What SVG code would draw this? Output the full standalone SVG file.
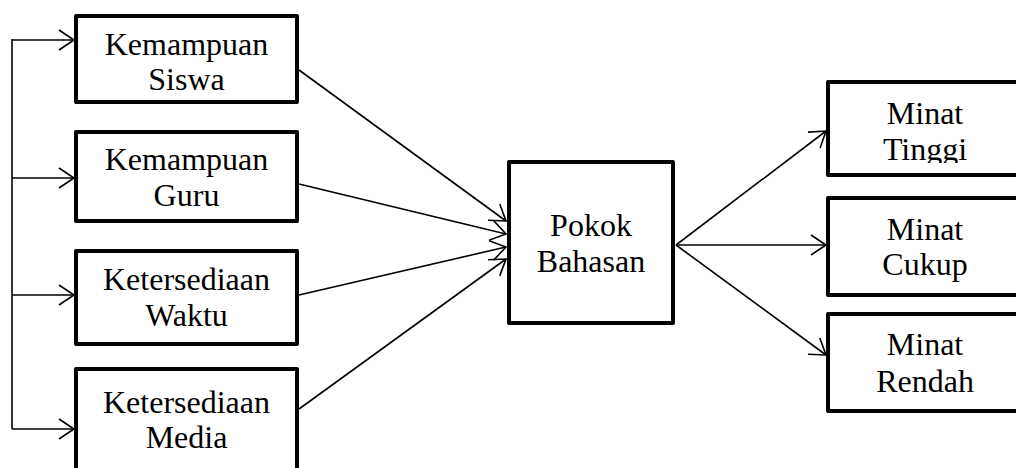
<svg xmlns="http://www.w3.org/2000/svg" width="1016" height="468" viewBox="0 0 1016 468">
  <style>
    .box { fill: #fff; stroke: #000; stroke-width: 4; stroke-linejoin: round; }
    .lbl { font-family: "Liberation Serif", "Times New Roman", serif; font-size: 32px; fill: #000; text-anchor: middle; }
    .wire { fill: none; stroke: #000; stroke-width: 1.6; }
  </style>
  <defs>
    <marker id="chev" markerUnits="userSpaceOnUse" markerWidth="20" markerHeight="24" refX="18" refY="12" orient="auto" overflow="visible">
      <path d="M 3 2 L 18 12 L 3 22" fill="none" stroke="#000" stroke-width="1.6"/>
    </marker>
    <clipPath id="cutTinggi">
      <rect x="828" y="82" width="200" height="81"/>
    </clipPath>
  </defs>
  <rect width="1016" height="468" fill="#fff"/>

  <!-- connectors -->
  <g id="connectors" class="wire">
    <path d="M 12 39 L 12 429"/>
    <path d="M 12 40 L 74 40" marker-end="url(#chev)"/>
    <path d="M 12 178 L 74 178" marker-end="url(#chev)"/>
    <path d="M 12 295 L 74 295" marker-end="url(#chev)"/>
    <path d="M 12 429 L 74 429" marker-end="url(#chev)"/>
    <path d="M 299 70 L 506 221" marker-end="url(#chev)"/>
    <path d="M 299 184 L 506 234" marker-end="url(#chev)"/>
    <path d="M 299 295 L 506 247" marker-end="url(#chev)"/>
    <path d="M 299 409 L 506 259" marker-end="url(#chev)"/>
    <path d="M 676 245 L 826 131" marker-end="url(#chev)"/>
    <path d="M 676 245 L 826 245" marker-end="url(#chev)"/>
    <path d="M 676 245 L 826 355" marker-end="url(#chev)"/>
  </g>

  <!-- input factors -->
  <g id="kemampuan-siswa">
    <rect class="box" x="76" y="16" width="221" height="86"/>
    <text class="lbl" x="186.5" y="55">Kemampuan</text>
    <text class="lbl" x="186.5" y="90">Siswa</text>
  </g>
  <g id="kemampuan-guru">
    <rect class="box" x="76" y="132" width="221" height="89"/>
    <text class="lbl" x="186.5" y="170">Kemampuan</text>
    <text class="lbl" x="186.5" y="206">Guru</text>
  </g>
  <g id="ketersediaan-waktu">
    <rect class="box" x="76" y="251" width="221" height="93"/>
    <text class="lbl" x="186.5" y="290">Ketersediaan</text>
    <text class="lbl" x="186.5" y="326">Waktu</text>
  </g>
  <g id="ketersediaan-media">
    <rect class="box" x="76" y="369" width="221" height="120"/>
    <text class="lbl" x="186.5" y="413">Ketersediaan</text>
    <text class="lbl" x="186.5" y="448">Media</text>
  </g>

  <!-- central topic -->
  <g id="pokok-bahasan">
    <rect class="box" x="509" y="162" width="164" height="161"/>
    <text class="lbl" x="591" y="236">Pokok</text>
    <text class="lbl" x="591" y="272">Bahasan</text>
  </g>

  <!-- interest outcomes -->
  <g id="minat-tinggi">
    <rect class="box" x="828" y="82" width="200" height="93"/>
    <text class="lbl" x="925" y="124">Minat</text>
    <text class="lbl" x="925" y="160" clip-path="url(#cutTinggi)">Tinggi</text>
  </g>
  <g id="minat-cukup">
    <rect class="box" x="828" y="198" width="200" height="97"/>
    <text class="lbl" x="925" y="240">Minat</text>
    <text class="lbl" x="925" y="275">Cukup</text>
  </g>
  <g id="minat-rendah">
    <rect class="box" x="828" y="314" width="200" height="97"/>
    <text class="lbl" x="925" y="355">Minat</text>
    <text class="lbl" x="925" y="392">Rendah</text>
  </g>
</svg>
